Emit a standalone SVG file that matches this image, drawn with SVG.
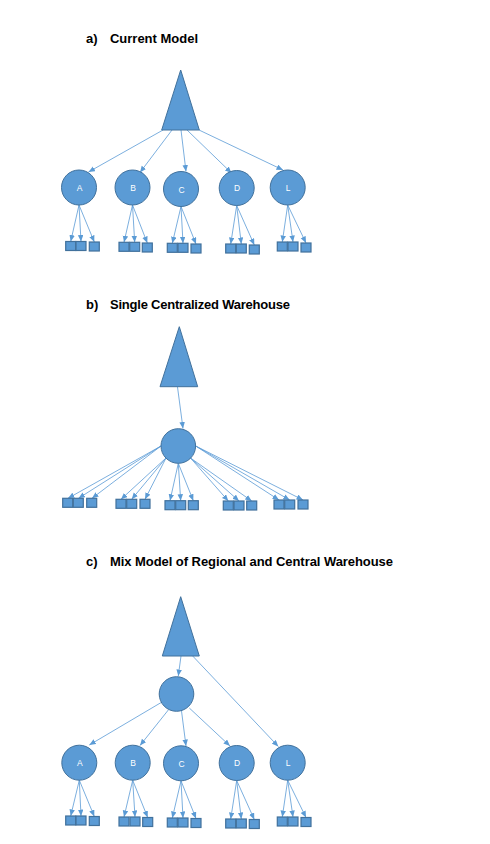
<svg xmlns="http://www.w3.org/2000/svg" width="490" height="844" viewBox="0 0 490 844">
<defs>
<marker id="ah" markerUnits="userSpaceOnUse" markerWidth="7" markerHeight="6" refX="6.5" refY="2.75" orient="auto">
<path d="M0,0 L6.5,2.75 L0,5.5 z" fill="#5b9bd5"/>
</marker>
<style>
.t{font-family:"Liberation Sans",Arial,sans-serif;font-weight:bold;font-size:13px;fill:#000}
.n{fill:#5b9bd5;stroke:#41719c;stroke-width:1}
.s{fill:#5b9bd5;stroke:#41719c;stroke-width:1.2}
.l{font-family:"Liberation Sans",Arial,sans-serif;font-size:8.5px;fill:#ffffff;text-anchor:middle}
.c line{stroke:#5b9bd5;stroke-width:0.8;marker-end:url(#ah)}
</style>
</defs>
<rect width="490" height="844" fill="#ffffff"/>

<!-- titles -->
<g id="title-a"><text class="t" x="86" y="43">a)</text><text class="t" x="110" y="43" textLength="88">Current Model</text></g>
<g id="title-b"><text class="t" x="86" y="309">b)</text><text class="t" x="110" y="309" textLength="180">Single Centralized Warehouse</text></g>
<g id="title-c"><text class="t" x="86" y="565.5">c)</text><text class="t" x="110" y="565.5" textLength="283">Mix Model of Regional and Central Warehouse</text></g>

<!-- connectors -->
<g id="connectors" class="c">
<!-- section a -->
<line x1="163" y1="130" x2="88.5" y2="172"/>
<line x1="172" y1="130" x2="140" y2="172.5"/>
<line x1="181" y1="130" x2="186" y2="171.5"/>
<line x1="187" y1="130" x2="231.5" y2="173"/>
<line x1="199" y1="130" x2="283" y2="170"/>
<line x1="79" y1="205" x2="70.7" y2="241.5"/>
<line x1="79" y1="205" x2="81" y2="241.5"/>
<line x1="79" y1="205" x2="94.3" y2="242"/>
<line x1="132.5" y1="205" x2="124" y2="242.3"/>
<line x1="132.5" y1="205" x2="134.7" y2="242.3"/>
<line x1="132.5" y1="205" x2="147.3" y2="243"/>
<line x1="181" y1="206.5" x2="172.3" y2="243.3"/>
<line x1="181" y1="206.5" x2="183" y2="243.3"/>
<line x1="181" y1="206.5" x2="196" y2="244"/>
<line x1="236.7" y1="205.5" x2="230.7" y2="244"/>
<line x1="236.7" y1="205.5" x2="241.3" y2="244"/>
<line x1="236.7" y1="205.5" x2="254.3" y2="245"/>
<line x1="287.7" y1="205" x2="282.3" y2="242"/>
<line x1="287.7" y1="205" x2="293" y2="242"/>
<line x1="287.7" y1="205" x2="306" y2="243"/>
<!-- section b -->
<line x1="177.5" y1="387" x2="183" y2="428.5"/>
<line x1="161" y1="446" x2="68" y2="498.3"/>
<line x1="161" y1="446" x2="78.5" y2="498.3"/>
<line x1="161" y1="446" x2="92" y2="498.3"/>
<line x1="166" y1="458" x2="121" y2="499.3"/>
<line x1="166" y1="458" x2="131.7" y2="499.3"/>
<line x1="166" y1="458" x2="145" y2="499.3"/>
<line x1="178.3" y1="463.3" x2="170" y2="500.7"/>
<line x1="178.3" y1="463.3" x2="180.7" y2="500.7"/>
<line x1="178.3" y1="463.3" x2="193.3" y2="500.7"/>
<line x1="190.5" y1="458" x2="228.3" y2="501"/>
<line x1="190.5" y1="458" x2="239" y2="501"/>
<line x1="190.5" y1="458" x2="251.7" y2="501"/>
<line x1="195.7" y1="446" x2="279" y2="500"/>
<line x1="195.7" y1="446" x2="289.7" y2="500"/>
<line x1="195.7" y1="446" x2="303" y2="500"/>
<!-- section c -->
<line x1="181" y1="656" x2="178.3" y2="676"/>
<line x1="192.7" y1="656" x2="278.3" y2="746.5"/>
<line x1="162" y1="702" x2="89.3" y2="745"/>
<line x1="168.3" y1="710" x2="140" y2="745.5"/>
<line x1="181.5" y1="711" x2="186" y2="746"/>
<line x1="189.3" y1="708" x2="230" y2="746"/>
<line x1="79.3" y1="780.2" x2="70.7" y2="816"/>
<line x1="79.3" y1="780.2" x2="81" y2="816"/>
<line x1="79.3" y1="780.2" x2="94.3" y2="816.5"/>
<line x1="132.7" y1="780.2" x2="124" y2="817"/>
<line x1="132.7" y1="780.2" x2="135" y2="817"/>
<line x1="132.7" y1="780.2" x2="147.7" y2="817.5"/>
<line x1="181" y1="780.8" x2="172.3" y2="818"/>
<line x1="181" y1="780.8" x2="183" y2="818"/>
<line x1="181" y1="780.8" x2="196" y2="818.5"/>
<line x1="236.7" y1="780.5" x2="230.7" y2="819"/>
<line x1="236.7" y1="780.5" x2="241.3" y2="819"/>
<line x1="236.7" y1="780.5" x2="254.3" y2="819.5"/>
<line x1="287.7" y1="780.2" x2="282.3" y2="817"/>
<line x1="287.7" y1="780.2" x2="293" y2="817"/>
<line x1="287.7" y1="780.2" x2="306" y2="817.5"/>
</g>

<!-- section a nodes -->
<g id="a-tri"><polygon class="n" points="180.7,70 161.7,130 199.3,130"/></g>
<g id="a-A"><circle class="n" cx="79" cy="187.5" r="17.5"/><text class="l" x="79.5" y="190.5">A</text></g>
<g id="a-B"><circle class="n" cx="132.5" cy="187.5" r="17.5"/><text class="l" x="133" y="190.5">B</text></g>
<g id="a-C"><circle class="n" cx="181" cy="189" r="17.5"/><text class="l" x="181.5" y="192.5">C</text></g>
<g id="a-D"><circle class="n" cx="236.7" cy="188" r="17.5"/><text class="l" x="237" y="191">D</text></g>
<g id="a-L"><circle class="n" cx="287.7" cy="187.5" r="17.5"/><text class="l" x="288" y="190.5">L</text></g>
<g id="a-A-sq"><rect class="s" x="65.7" y="241.5" width="10" height="9"/><rect class="s" x="76" y="241.5" width="10" height="9"/><rect class="s" x="89.3" y="242" width="10" height="9"/></g>
<g id="a-B-sq"><rect class="s" x="119" y="242.3" width="10" height="9"/><rect class="s" x="129.7" y="242.3" width="10" height="9"/><rect class="s" x="142.3" y="243" width="10" height="9"/></g>
<g id="a-C-sq"><rect class="s" x="167.3" y="243.3" width="10" height="9"/><rect class="s" x="178" y="243.3" width="10" height="9"/><rect class="s" x="191" y="244" width="10" height="9"/></g>
<g id="a-D-sq"><rect class="s" x="225.7" y="244" width="10" height="9"/><rect class="s" x="236.3" y="244" width="10" height="9"/><rect class="s" x="249.3" y="245" width="10" height="9"/></g>
<g id="a-L-sq"><rect class="s" x="277.3" y="242" width="10" height="9"/><rect class="s" x="288" y="242" width="10" height="9"/><rect class="s" x="301" y="243" width="10" height="9"/></g>

<!-- section b nodes -->
<g id="b-tri"><polygon class="n" points="179.3,326.7 160,386.7 197.7,386.7"/></g>
<g id="b-hub"><circle class="n" cx="178.3" cy="446" r="17.3"/></g>
<g id="b-sq1"><rect class="s" x="62.7" y="498.3" width="10" height="9"/><rect class="s" x="73.3" y="498.3" width="10" height="9"/><rect class="s" x="86.7" y="498.3" width="10" height="9"/></g>
<g id="b-sq2"><rect class="s" x="116" y="499.3" width="10" height="9"/><rect class="s" x="126.7" y="499.3" width="10" height="9"/><rect class="s" x="140" y="499.3" width="10" height="9"/></g>
<g id="b-sq3"><rect class="s" x="165" y="500.7" width="10" height="9"/><rect class="s" x="175.7" y="500.7" width="10" height="9"/><rect class="s" x="188.3" y="500.7" width="10" height="9"/></g>
<g id="b-sq4"><rect class="s" x="223.3" y="501" width="10" height="9"/><rect class="s" x="234" y="501" width="10" height="9"/><rect class="s" x="246.7" y="501" width="10" height="9"/></g>
<g id="b-sq5"><rect class="s" x="274" y="500" width="10" height="9"/><rect class="s" x="284.7" y="500" width="10" height="9"/><rect class="s" x="298" y="500" width="10" height="9"/></g>

<!-- section c nodes -->
<g id="c-tri"><polygon class="n" points="180.7,596.7 162.3,656 199.3,656"/></g>
<g id="c-hub"><circle class="n" cx="176.5" cy="694" r="17.3"/></g>
<g id="c-A"><circle class="n" cx="79.3" cy="762.7" r="17.5"/><text class="l" x="79.8" y="765.7">A</text></g>
<g id="c-B"><circle class="n" cx="132.7" cy="762.7" r="17.5"/><text class="l" x="133.2" y="765.7">B</text></g>
<g id="c-C"><circle class="n" cx="181" cy="763.3" r="17.5"/><text class="l" x="181.5" y="766.8">C</text></g>
<g id="c-D"><circle class="n" cx="236.7" cy="763" r="17.5"/><text class="l" x="237" y="766">D</text></g>
<g id="c-L"><circle class="n" cx="287.7" cy="762.7" r="17.5"/><text class="l" x="288" y="765.7">L</text></g>
<g id="c-A-sq"><rect class="s" x="65.7" y="816" width="10" height="9"/><rect class="s" x="76" y="816" width="10" height="9"/><rect class="s" x="89.3" y="816.5" width="10" height="9"/></g>
<g id="c-B-sq"><rect class="s" x="119" y="817" width="10" height="9"/><rect class="s" x="130" y="817" width="10" height="9"/><rect class="s" x="142.7" y="817.5" width="10" height="9"/></g>
<g id="c-C-sq"><rect class="s" x="167.3" y="818" width="10" height="9"/><rect class="s" x="178" y="818" width="10" height="9"/><rect class="s" x="191" y="818.5" width="10" height="9"/></g>
<g id="c-D-sq"><rect class="s" x="225.7" y="819" width="10" height="9"/><rect class="s" x="236.3" y="819" width="10" height="9"/><rect class="s" x="249.3" y="819.5" width="10" height="9"/></g>
<g id="c-L-sq"><rect class="s" x="277.3" y="817" width="10" height="9"/><rect class="s" x="288" y="817" width="10" height="9"/><rect class="s" x="301" y="817.5" width="10" height="9"/></g>
</svg>
